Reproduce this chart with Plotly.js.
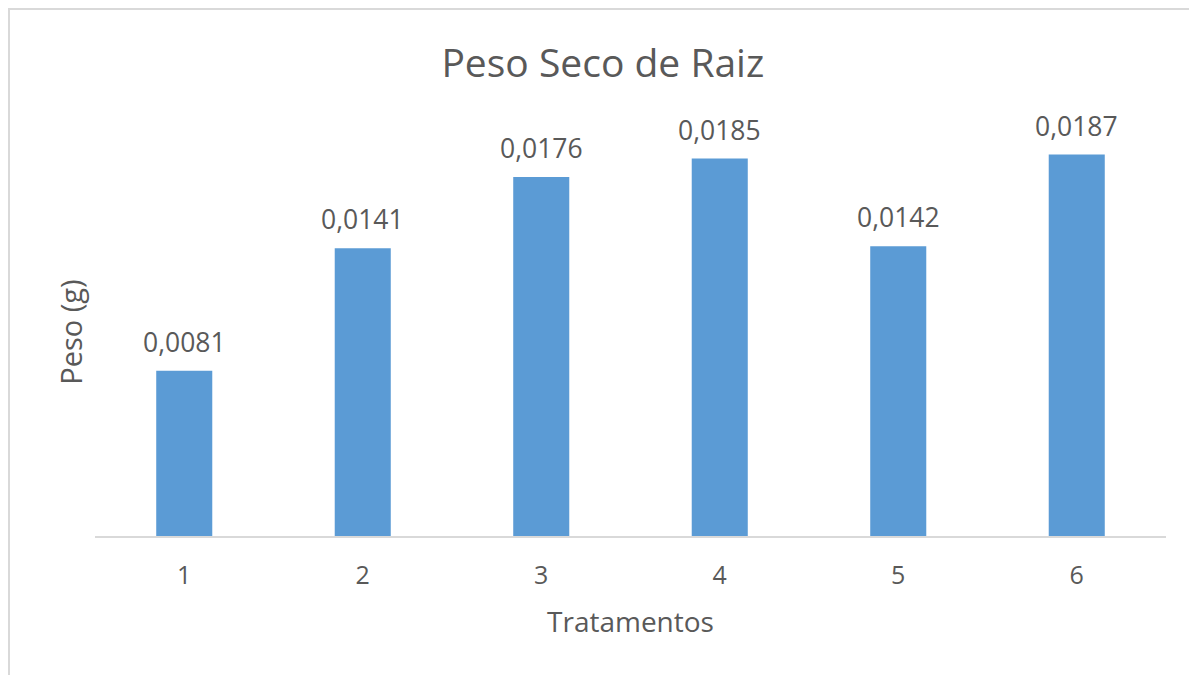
<!DOCTYPE html>
<html>
<head>
<meta charset="utf-8">
<script src="https://cdn.plot.ly/plotly-3.0.1.min.js"></script>
<style>html,body{margin:0;padding:0;background:#fff;}#chart{width:1189px;height:675px;}</style>
</head>
<body>
<div id="chart"></div>
<script>
const categories = ["1", "2", "3", "4", "5", "6"];
const pesoSeco = [0.0081, 0.0141, 0.0176, 0.0185, 0.0142, 0.0187];
const chartTitle = "Peso Seco de Raiz";
const xTitle = "Tratamentos";
const yTitle = "Peso (g)";

const FONT = "'Open Sans', sans-serif";
const TXT = "#595959";

const trace = {
  type: "bar",
  x: categories,
  y: pesoSeco,
  marker: {color: "#5B9BD5"},
  hoverinfo: "x+y"
};

const annotations = categories.map((c, i) => ({
  x: i, y: pesoSeco[i], xref: "x", yref: "y",
  text: pesoSeco[i].toFixed(4).replace(".", ","),
  showarrow: false, yanchor: "middle", yshift: 29,
  font: {family: FONT, size: 26.5, color: TXT}
}));

const layout = {
  width: 1189, height: 675,
  margin: {l: 95, r: 23, t: 128, b: 139},
  paper_bgcolor: "#ffffff", plot_bgcolor: "#ffffff",
  showlegend: false,
  bargap: 0.686,
  separators: ", ",
  font: {family: FONT, color: TXT},
  title: {
    text: chartTitle, font: {family: FONT, size: 39, color: TXT},
    x: 0.507, xref: "container", xanchor: "center",
    y: 1 - 63/675, yref: "container", yanchor: "middle"
  },
  xaxis: {
    type: "category",
    range: [-0.5, 5.5],
    showline: true, linecolor: "#D9D9D9", linewidth: 2,
    showgrid: false, zeroline: false,
    ticks: "", ticklabelstandoff: 16,
    tickfont: {family: FONT, size: 25, color: TXT},
    title: {text: xTitle, font: {family: FONT, size: 28, color: TXT}, standoff: 22}
  },
  yaxis: {
    range: [0, 0.02],
    showline: false, showgrid: false, zeroline: false,
    showticklabels: false, ticks: "",
    title: {text: yTitle, font: {family: FONT, size: 29, color: TXT}, standoff: 2}
  },
  annotations: annotations,
  shapes: [{
    type: "rect", xref: "paper", yref: "paper",
    x0: -0.0803, x1: 1.2, y0: -0.5, y1: 1.2917,
    line: {color: "#D9D9D9", width: 2}, fillcolor: "rgba(0,0,0,0)", layer: "below"
  }]
};

Plotly.newPlot("chart", [trace], layout, {displayModeBar: false, staticPlot: true});
</script>
</body>
</html>
